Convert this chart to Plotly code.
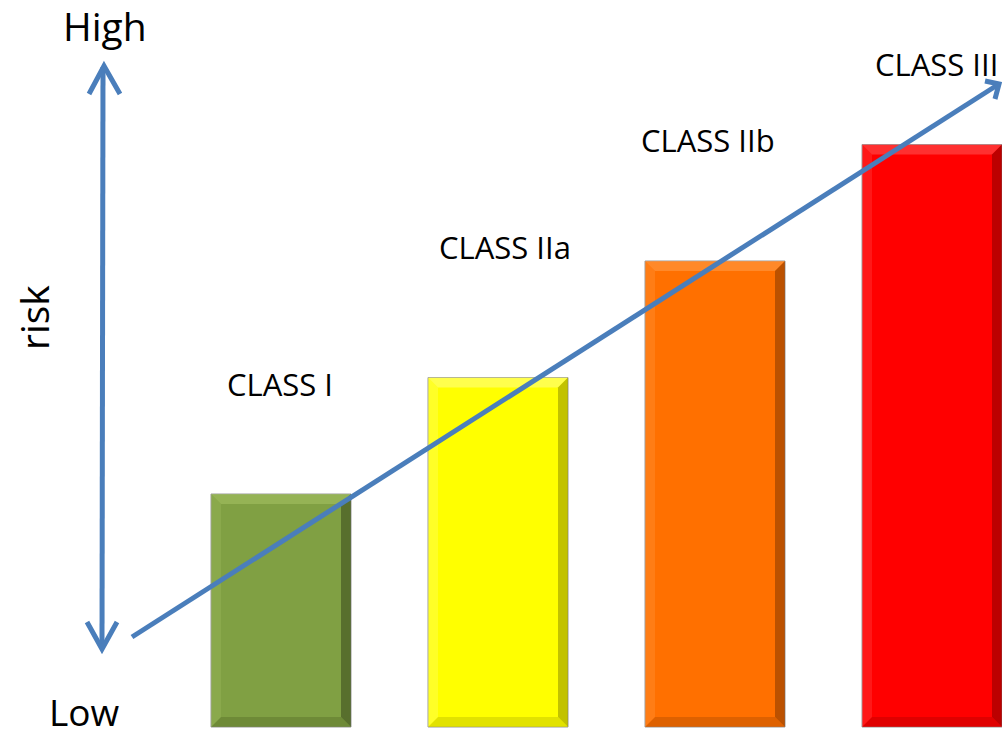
import plotly.graph_objects as go

categories = ["CLASS I", "CLASS IIa", "CLASS IIb", "CLASS III"]
risk_values = [2, 3, 4, 5]
bar_colors = ["#80A043", "#FFFF00", "#FF7000", "#FF0000"]
light_colors = ["#A3C063", "#FFFF80", "#FF9A45", "#FF5050"]
dark_colors = ["#3E4E1F", "#9A9A00", "#8E3C00", "#900000"]
mid_dark_colors = ["#637C31", "#CFCF00", "#C85700", "#CC0000"]
label_y = [2.94, 4.12, 5.04, 5.69]
label_x = [-0.005, 1.032, 1.968, None]

W, H = 1002, 736
positions = list(range(len(categories)))
bar_width = 140 / 217
hw = bar_width / 2
bx = 10 / 217
by = 10 / 116.5

fig = go.Figure()
fig.add_trace(go.Bar(
    x=positions, y=risk_values, width=bar_width,
    marker=dict(color=bar_colors, line=dict(color="#9A9A9A", width=1)),
    customdata=categories, hoverinfo="skip", showlegend=False,
))

shapes = []
for i, v in enumerate(risk_values):
    x0, x1 = i - hw, i + hw
    bands = [
        (f"M {x0},{v} L {x1},{v} L {x1-bx},{v-by} L {x0+bx},{v-by} Z", light_colors[i], 0.6),
        (f"M {x1},{v} L {x1},0 L {x1-bx},{by} L {x1-bx},{v-by} Z", dark_colors[i], 0.6),
        (f"M {x0},0 L {x1},0 L {x1-bx},{by} L {x0+bx},{by} Z", mid_dark_colors[i], 0.6),
        (f"M {x0},0 L {x0},{v} L {x0+bx},{v-by} L {x0+bx},{by} Z", light_colors[i], 0.3),
    ]
    for path, col, op in bands:
        shapes.append(dict(type="path", path=path, xref="x", yref="y",
                           fillcolor=col, line=dict(width=0), opacity=op, layer="above"))

def P(px, py):
    return px / W, 1 - py / H

blue = "#4A7EBB"
arrow_paths = [
    [(103, 67), (102, 648)],
    [(89, 94), (104, 66), (120, 94)],
    [(87, 622), (102, 649), (117, 622)],
    [(132, 637), (999, 84)],
    [(985, 81), (999, 84), (995, 99)],
]
for pts in arrow_paths:
    d = "M " + " L ".join(f"{P(*p)[0]},{P(*p)[1]}" for p in pts)
    shapes.append(dict(type="path", path=d, xref="paper", yref="paper",
                       line=dict(color=blue, width=5), layer="above"))

label_font = dict(size=31, color="black", family="Open Sans")
annotations = []
for i, c in enumerate(categories):
    if label_x[i] is None:
        annotations.append(dict(x=0.9985, xref="paper", y=label_y[i], yref="y", text=c,
                                showarrow=False, xanchor="right", yanchor="middle",
                                font=label_font))
    else:
        annotations.append(dict(x=label_x[i], xref="x", y=label_y[i], yref="y", text=c,
                                showarrow=False, xanchor="center", yanchor="middle",
                                font=label_font))

for txt, px, py, ang, sz in [("High", 105, 26, 0, 39), ("Low", 84, 711, 0, 37), ("risk", 33, 318, -90, 39)]:
    xp, yp = P(px, py)
    annotations.append(dict(x=xp, y=yp, xref="paper", yref="paper", text=txt, textangle=ang,
                            showarrow=False, xanchor="center", yanchor="middle",
                            font=dict(size=sz, color="black", family="Open Sans")))

x_r0 = -281 / 217
fig.update_layout(
    width=W, height=H, margin=dict(l=0, r=0, t=0, b=0),
    paper_bgcolor="white", plot_bgcolor="white",
    xaxis=dict(range=[x_r0, x_r0 + W / 217], visible=False, fixedrange=True),
    yaxis=dict(range=[-9 / 116.5, 727 / 116.5], visible=False, fixedrange=True),
    shapes=shapes, annotations=annotations,
)
fig.write_html("out.html")
